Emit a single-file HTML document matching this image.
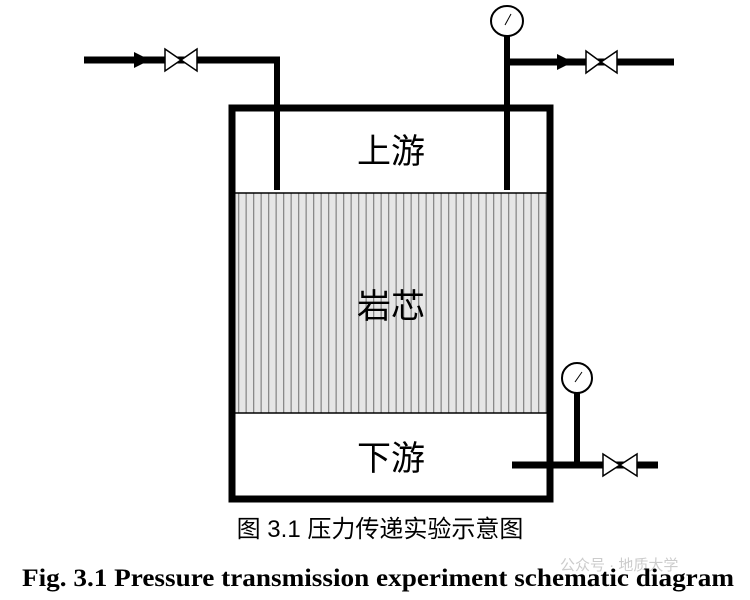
<!DOCTYPE html>
<html><head><meta charset="utf-8"><style>
html,body{margin:0;padding:0;background:#fff;}
svg{display:block;}
</style></head><body>
<svg width="750" height="600" viewBox="0 0 750 600" xmlns="http://www.w3.org/2000/svg">
<defs>
<pattern id="p" x="0" y="0" width="7.5" height="10" patternUnits="userSpaceOnUse">
<rect width="7.5" height="10" fill="#e6e6e6"/>
<rect x="5.5" width="1.3" height="10" fill="#8a8a8a"/>
</pattern>
</defs>
<rect x="232" y="193" width="318" height="220" fill="url(#p)"/>
<line x1="232" y1="193" x2="550" y2="193" stroke="#000" stroke-width="1.5"/>
<line x1="232" y1="413" x2="550" y2="413" stroke="#000" stroke-width="1.5"/>
<rect x="232" y="108" width="318" height="391" fill="none" stroke="#000" stroke-width="7"/>
<line x1="84" y1="60" x2="280" y2="60" stroke="#000" stroke-width="7"/>
<line x1="277" y1="57" x2="277" y2="190" stroke="#000" stroke-width="6"/>
<polygon points="134,52 150,60 134,68" fill="#000"/>
<polygon points="165,49 181,60 165,71" fill="#fff" stroke="#000" stroke-width="1.5"/>
<polygon points="197,49 181,60 197,71" fill="#fff" stroke="#000" stroke-width="1.5"/>
<line x1="507" y1="36" x2="507" y2="190" stroke="#000" stroke-width="6"/>
<line x1="507" y1="62" x2="674" y2="62" stroke="#000" stroke-width="7"/>
<polygon points="557,54 573,62 557,70" fill="#000"/>
<polygon points="586,51 601,62 586,73" fill="#fff" stroke="#000" stroke-width="1.5"/>
<polygon points="617,51 601,62 617,73" fill="#fff" stroke="#000" stroke-width="1.5"/>
<ellipse cx="507" cy="21" rx="16" ry="15" fill="#fff" stroke="#000" stroke-width="2"/>
<line x1="505" y1="25" x2="511" y2="14" stroke="#000" stroke-width="1"/>
<line x1="512" y1="465" x2="658" y2="465" stroke="#000" stroke-width="7"/>
<line x1="577" y1="392" x2="577" y2="465" stroke="#000" stroke-width="6"/>
<ellipse cx="577" cy="378" rx="15" ry="15" fill="#fff" stroke="#000" stroke-width="2"/>
<line x1="575" y1="382" x2="582" y2="372" stroke="#000" stroke-width="1"/>
<polygon points="603,454 620,465 603,476" fill="#fff" stroke="#000" stroke-width="1.5"/>
<polygon points="637,454 620,465 637,476" fill="#fff" stroke="#000" stroke-width="1.5"/>
<g font-family="'Liberation Sans','Noto Sans CJK SC',sans-serif" font-size="34" text-anchor="middle" fill="#000">
<text x="391" y="163">上游</text>
<text x="391" y="318">岩芯</text>
<text x="391" y="470">下游</text>
</g>
<text x="380" y="537" font-family="'Liberation Sans','Noto Sans CJK SC',sans-serif" font-size="24" text-anchor="middle" fill="#000">图 3.1  压力传递实验示意图</text>
<text x="560" y="570" font-family="'Liberation Sans','Noto Sans CJK SC',sans-serif" font-size="15" fill="#ccc">公众号 · 地质大学</text>
<text x="378" y="586" font-family="'Liberation Serif',serif" font-weight="bold" font-size="25" text-anchor="middle" fill="#000" textLength="712" lengthAdjust="spacingAndGlyphs">Fig. 3.1 Pressure transmission experiment schematic diagram</text>
</svg>
</body></html>
